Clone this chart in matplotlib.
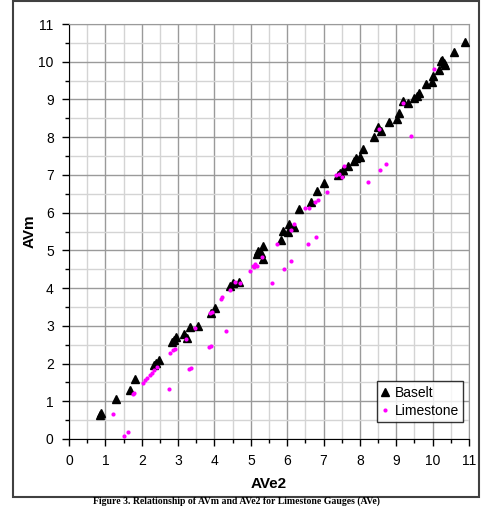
import numpy as np
import matplotlib.pyplot as plt
from matplotlib.patches import Rectangle
from matplotlib.ticker import MultipleLocator

# Baselt series (AVe2, AVm)
baselt_x = [0.85, 0.88, 1.28, 1.68, 1.82, 2.34, 2.40, 2.47, 2.82, 2.88,
            2.94, 3.16, 3.24, 3.33, 3.54, 3.90, 4.02, 4.43, 4.50, 4.68,
            5.16, 5.21, 5.27, 5.33, 5.33, 5.82, 5.88, 6.01, 6.06, 6.20,
            6.33, 6.65, 6.81, 7.01, 7.39, 7.45, 7.53, 7.66, 7.85, 7.90,
            8.00, 8.09, 8.39, 8.51, 8.58, 8.81, 9.01, 9.08, 9.19, 9.31,
            9.48, 9.58, 9.62, 9.82, 9.98, 10.02, 10.18, 10.22, 10.27, 10.31,
            10.35, 10.60, 10.88]
baselt_y = [0.64, 0.68, 1.05, 1.30, 1.59, 1.96, 2.02, 2.09, 2.58, 2.62,
            2.70, 2.78, 2.67, 2.96, 3.00, 3.33, 3.46, 4.06, 4.13, 4.17,
            4.90, 4.99, 4.92, 5.12, 4.77, 5.27, 5.51, 5.48, 5.70, 5.63,
            6.09, 6.27, 6.58, 6.79, 7.00, 7.04, 7.13, 7.24, 7.38, 7.44,
            7.48, 7.68, 8.00, 8.28, 8.17, 8.41, 8.47, 8.65, 8.96, 8.91,
            9.05, 9.09, 9.18, 9.41, 9.45, 9.62, 9.77, 10.02, 10.05, 9.97,
            9.91, 10.27, 10.51]

# Limestone series (AVe2, AVm)
lime_x = [1.20, 1.51, 1.63, 1.75, 1.78, 2.03, 2.09, 2.15, 2.22, 2.28,
          2.35, 2.43, 2.76, 2.78, 2.87, 2.92, 3.22, 3.30, 3.36, 3.47,
          3.86, 3.90, 3.88, 3.92, 4.18, 4.22, 4.32, 4.43, 4.57, 4.70,
          4.98, 5.07, 5.12, 5.16, 5.10, 5.32, 5.57, 5.71, 5.91, 6.10,
          6.11, 6.20, 6.49, 6.60, 6.58, 6.79, 6.77, 6.86, 7.09, 7.34,
          7.43, 7.50, 7.56, 8.23, 8.55, 8.72, 8.53, 9.19, 9.41, 10.03]
lime_y = [0.65, 0.08, 0.19, 1.19, 1.22, 1.48, 1.56, 1.62, 1.69, 1.76,
          1.84, 1.92, 1.32, 2.27, 2.36, 2.38, 2.64, 1.86, 1.88, 2.93,
          2.43, 2.47, 3.35, 3.37, 3.70, 3.76, 2.87, 3.95, 4.17, 4.14,
          4.46, 4.59, 4.64, 4.59, 4.57, 4.82, 4.14, 5.18, 4.50, 4.72,
          5.54, 5.70, 6.11, 6.11, 5.17, 5.36, 6.29, 6.33, 6.56, 7.00,
          7.02, 6.95, 7.24, 6.82, 7.13, 7.29, 8.23, 8.90, 8.04, 9.80]

plt.rcParams['font.family'] = ['Liberation Sans', 'DejaVu Sans']

fig = plt.figure(figsize=(4.83, 5.07), dpi=100)
ax = fig.add_axes([69/483, 68/507, 400/483, 415/507])

ax.plot(baselt_x, baselt_y, linestyle='none', marker='^', color='black',
        markersize=5.5, label='Baselt', zorder=3)
ax.plot(lime_x, lime_y, linestyle='none', marker='o', color='#ff00ff',
        markersize=3, markeredgewidth=0, label='Limestone', zorder=4)

ax.set_xlim(0, 11)
ax.set_ylim(0, 11)
ax.xaxis.set_major_locator(MultipleLocator(1))
ax.yaxis.set_major_locator(MultipleLocator(1))
ax.xaxis.set_minor_locator(MultipleLocator(0.5))
ax.yaxis.set_minor_locator(MultipleLocator(0.5))
ax.grid(which='major', color='#9a9a9a', linewidth=1.0, zorder=0)
ax.grid(which='minor', color='#d4d4d4', linewidth=1.0, zorder=0)
ax.set_axisbelow(True)
ax.tick_params(which='major', direction='out', length=5, width=1,
               labelsize=10, pad=6)
ax.tick_params(which='minor', direction='out', length=3, width=1)
for s in ['top', 'right']:
    ax.spines[s].set_color('#9a9a9a')
for s in ['left', 'bottom']:
    ax.spines[s].set_color('black')

ax.set_xlabel('AVe2', fontsize=11, fontweight='bold', labelpad=6)
ax.set_ylabel('AVm', fontsize=11, fontweight='bold', labelpad=1)

leg = ax.legend(loc='lower right', bbox_to_anchor=(0.985, 0.041),
                fontsize=10, frameon=True, fancybox=False, borderpad=0.3,
                handlelength=0.6, handletextpad=0.4, borderaxespad=0,
                labelspacing=0.3)
leg.get_frame().set_edgecolor('black')
leg.get_frame().set_linewidth(1)

# outer frame around the chart
fig.patches.append(Rectangle((13/483, 10/507), 466/483, 496/507,
                             transform=fig.transFigure, fill=False,
                             edgecolor='#404040', linewidth=1.5))

# caption below the frame
fig.text(0.49, 0.5/507, 'Figure 3. Relationship of AVm and AVe2 for Limestone Gauges (AVe)',
         ha='center', va='bottom', fontsize=7, fontweight='bold',
         family='Liberation Serif')

fig.savefig('out.png', dpi=100)
